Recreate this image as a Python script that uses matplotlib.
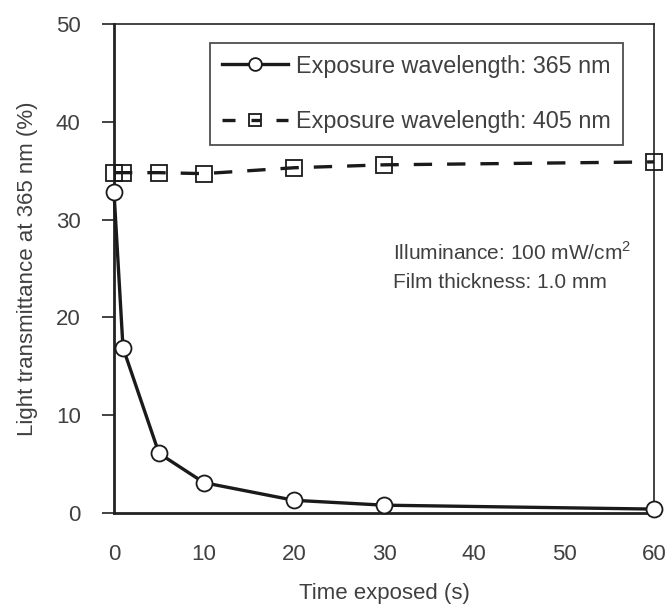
import matplotlib
matplotlib.use("Agg")
import matplotlib.pyplot as plt

time_s = [0, 1, 5, 10, 20, 30, 60]
trans_365 = [32.8, 16.9, 6.1, 3.1, 1.3, 0.8, 0.4]
time_405 = [0, 1, 5, 10, 20, 30, 60]
trans_405 = [34.8, 34.8, 34.8, 34.7, 35.3, 35.6, 35.9]
xticks = [0, 10, 20, 30, 40, 50, 60]
yticks = [0, 10, 20, 30, 40, 50]
label_365 = "Exposure wavelength: 365 nm"
label_405 = "Exposure wavelength: 405 nm"

plt.rcParams['font.family'] = ['Liberation Sans', 'DejaVu Sans']
plt.rcParams['mathtext.fontset'] = 'custom'
plt.rcParams['mathtext.rm'] = 'Liberation Sans'
txt = '#404040'
fig = plt.figure(figsize=(6.7, 6.05), dpi=100)
ax = fig.add_axes([114/670, 1-513/605, (654-114)/670, (513-24)/605])

ax.plot(time_s, trans_365, color='#1a1a1a', lw=2.4, marker='o', ms=11.5,
        mfc='white', mec='#1a1a1a', mew=1.3, label=label_365, clip_on=False, zorder=3)
ax.plot(time_405, trans_405, color='#1a1a1a', lw=2.4, dashes=(5.5, 4.5), marker='s', ms=11.5,
        mfc='none', mec='#1a1a1a', mew=1.3, label=label_405, clip_on=False, zorder=3)

ax.set_xlim(0, 60)
ax.set_ylim(0, 50)
ax.set_xticks(xticks)
ax.set_yticks(yticks)
ax.tick_params(axis='x', length=0, pad=22, labelsize=16, labelcolor=txt)
ax.tick_params(axis='y', direction='out', length=9, width=1.2, color='#222', pad=15,
               labelsize=16, labelcolor=txt)
for s in ax.spines.values():
    s.set_linewidth(1.2)
    s.set_color('#222')
ax.spines['left'].set_linewidth(2.0)
ax.spines['bottom'].set_linewidth(2.0)

ax.set_xlabel("Time exposed (s)", fontsize=16, color=txt, labelpad=13)
ax.set_ylabel("Light transmittance at 365 nm (%)", fontsize=16, color=txt, labelpad=13)

leg = ax.legend(loc='upper left', bbox_to_anchor=(210/670, 1-43/605), bbox_transform=fig.transFigure,
                fontsize=16.8, frameon=True, fancybox=False, edgecolor='#222', labelcolor=txt,
                handlelength=2.85, handletextpad=0.35, labelspacing=1.4, markerscale=0.8,
                borderpad=0.5, borderaxespad=0)
leg.get_frame().set_linewidth(1.3)
leg_lines = leg.get_lines()
leg_lines[1].set_dashes((3.9, 4.8, 2.7, 4.8, 3.9, 10))

ax.text(393/670, 1-252/605, "Illuminance: 100 mW/cm$^2$", transform=fig.transFigure,
        fontsize=15, color=txt, va='center', ha='left')
ax.text(393/670, 1-283/605, "Film thickness: 1.0 mm", transform=fig.transFigure,
        fontsize=15, color=txt, va='center', ha='left')

fig.savefig("out.png", dpi=100)
